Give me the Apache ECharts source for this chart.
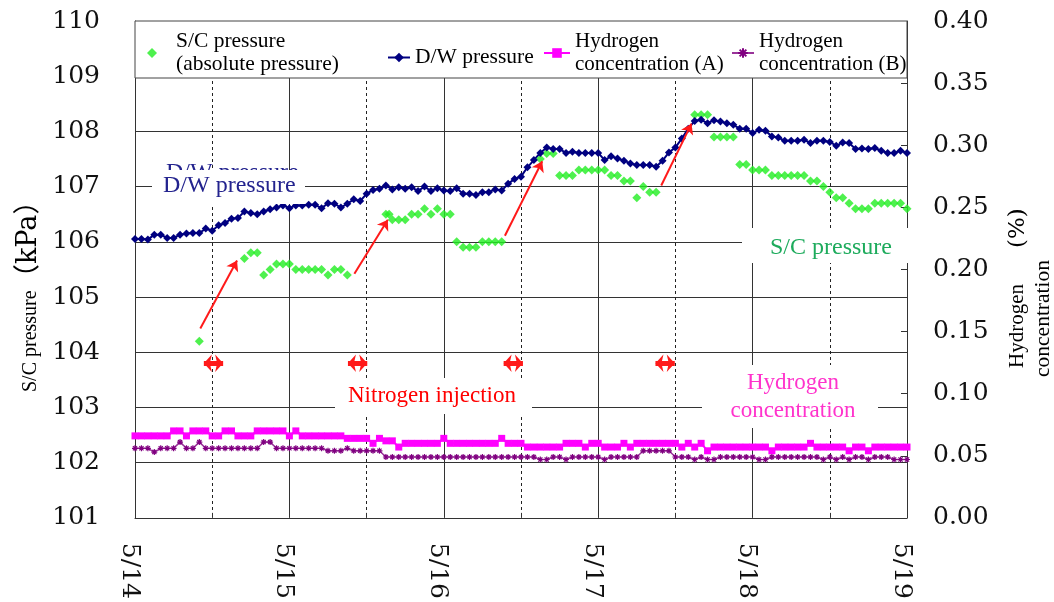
<!DOCTYPE html>
<html><head><meta charset="utf-8">
<script src="https://cdn.jsdelivr.net/npm/echarts@6/dist/echarts.min.js"></script>
<style>html,body{margin:0;padding:0;background:#fff}#c{width:1054px;height:602px}</style>
</head><body><div id="c"></div>
<script>
// ---- data (x = hours from 5/14 0:00) ----
const dayLabels = ['5/14', '5/15', '5/16', '5/17', '5/18', '5/19'];

// D/W pressure, hourly (kPa)
const dwValues = [
  106.05,106.05,106.04,106.13,106.13,106.07,106.07,106.13,106.15,106.16,106.16,
  106.24,106.20,106.30,106.34,106.42,106.43,106.55,106.52,106.50,106.55,
  106.59,106.62,106.66,106.61,106.66,106.66,106.67,106.67,106.61,106.70,
  106.69,106.62,106.69,106.77,106.74,106.87,106.94,106.96,107.02,106.95,
  106.99,106.96,106.99,106.92,107.00,106.92,106.97,106.93,106.92,106.97,
  106.87,106.87,106.85,106.90,106.90,106.95,106.93,107.05,107.14,107.18,
  107.35,107.48,107.61,107.71,107.68,107.68,107.61,107.63,107.61,107.61,
  107.61,107.61,107.48,107.55,107.51,107.47,107.42,107.39,107.39,107.39,
  107.36,107.47,107.62,107.71,107.87,108.05,108.19,108.21,108.15,108.20,
  108.18,108.15,108.12,108.05,108.05,107.97,108.03,108.01,107.91,107.89,
  107.83,107.83,107.83,107.85,107.79,107.83,107.83,107.81,107.74,107.80,
  107.79,107.68,107.69,107.68,107.70,107.65,107.61,107.61,107.65,107.61
];

// S/C pressure (absolute), sparse readings
const scHours = [
  10,17,18,19,20,21,22,23,24,25,26,27,28,29,30,31,32,33,
  39,39.5,40,41,42,43,44,45,46,47,48,49,
  50,51,52,53,54,55,56,57,
  63,64,65,66,67,68,69,70,71,72,73,74,75,76,77,78,79,80,81,
  87,88,89,90,91,92,93,94,95,96,97,98,99,100,101,102,103,104,
  105,106,107,108,109,110,111,112,113,114,115,116,117,118,119,120
];
const scValues = [
  104.2,105.7,105.8,105.8,105.4,105.5,105.6,105.6,105.6,105.5,105.5,105.5,105.5,105.5,105.4,105.5,105.5,105.4,
  106.5,106.5,106.4,106.4,106.4,106.5,106.5,106.6,106.5,106.6,106.5,106.5,
  106.0,105.9,105.9,105.9,106.0,106.0,106.0,106.0,
  107.5,107.6,107.6,107.2,107.2,107.2,107.3,107.3,107.3,107.3,107.3,107.2,107.2,107.1,107.1,106.8,107.0,106.9,106.9,
  108.3,108.3,108.3,107.9,107.9,107.9,107.9,107.4,107.4,107.3,107.3,107.3,107.2,107.2,107.2,107.2,107.2,107.2,
  107.1,107.1,107.0,106.9,106.8,106.8,106.7,106.6,106.6,106.6,106.7,106.7,106.7,106.7,106.7,106.6
];

// Hydrogen concentration (A), hourly (%)
const h2A = [
  .066,.066,.066,.066,.066,.066,.070,.070,.066,.070,
  .070,.070,.066,.066,.070,.070,.066,.066,.066,.070,
  .070,.070,.070,.070,.066,.070,.066,.066,.066,.066,
  .066,.066,.066,.064,.064,.064,.064,.060,.064,.062,
  .062,.057,.060,.060,.060,.060,.060,.060,.064,.060,
  .060,.060,.060,.060,.060,.060,.060,.064,.060,.060,
  .060,.057,.057,.057,.057,.057,.057,.060,.060,.060,
  .057,.060,.060,.057,.057,.057,.060,.057,.060,.060,
  .060,.060,.060,.060,.060,.057,.060,.057,.060,.054,
  .057,.057,.057,.057,.057,.057,.057,.057,.057,.054,
  .057,.057,.057,.057,.057,.060,.057,.057,.057,.057,
  .057,.054,.057,.057,.054,.057,.057,.057,.057,.057,
  .057
];
// Hydrogen concentration (B), hourly (%)
const h2B = [
  .056,.056,.056,.053,.056,.056,.056,.061,.056,.056,
  .061,.056,.056,.056,.056,.056,.056,.056,.056,.056,
  .061,.061,.056,.056,.056,.056,.056,.056,.056,.056,
  .054,.054,.054,.056,.054,.054,.054,.054,.054,.049,
  .049,.049,.049,.049,.049,.049,.049,.049,.049,.049,
  .049,.049,.049,.049,.049,.049,.049,.049,.049,.049,
  .049,.049,.049,.047,.047,.049,.049,.047,.049,.049,
  .049,.049,.049,.047,.049,.049,.049,.049,.049,.054,
  .054,.054,.054,.054,.049,.049,.049,.047,.049,.047,
  .047,.049,.049,.049,.049,.049,.049,.047,.047,.049,
  .049,.049,.049,.049,.049,.049,.049,.047,.049,.047,
  .049,.047,.049,.049,.047,.049,.049,.049,.047,.047,
  .047
];

// annotation arrows (hours, kPa)
const injArrows = [
  [[10.15,104.43],[15.86,105.66]],
  [[34.1,105.42],[39.3,106.40]],
  [[57.5,106.11],[63.3,107.46]],
  [[81.8,107.02],[86.5,108.14]]
];
const injMarks = [[10.7,13.7],[33.1,36.1],[57.3,60.3],[80.9,83.9]];
const injLevel = 103.8;

// ---- chart ----
const serif = 'Liberation Serif';
const numFont = 'DejaVu Serif';
const chart = echarts.init(document.getElementById('c'));
const asterisk = 'path://M5,0L5,10M0,5L10,5M1.5,1.5L8.5,8.5M8.5,1.5L1.5,8.5';

function mkLegend(name, left, top, w, h, padLeft, fs) {
  return {data: [name], left: left, top: top, itemWidth: w, itemHeight: h, itemGap: 0,
    padding: 0, selectedMode: false,
    textStyle: {fontFamily: serif, fontSize: fs, lineHeight: 23, color: '#000', padding: [0, 0, 0, padLeft]}};
}

const option = {
  animation: false,
  grid: {left: 135, right: 147, top: 21, bottom: 82},
  legend: [
    mkLegend('S/C pressure\n(absolute pressure)', 147, 30, 10, 10, 14, 21.5),
    mkLegend('D/W pressure', 387, 46, 22, 12, 0, 21.5),
    mkLegend('Hydrogen\nconcentration (A)', 543, 30, 26, 12, 0, 21),
    mkLegend('Hydrogen\nconcentration (B)', 731, 30, 22, 12, 0, 21)
  ],
  xAxis: {
    type: 'value', min: 0, max: 120, interval: 24,
    axisLine: {lineStyle: {color: '#333', width: 1}},
    axisTick: {show: false, inside: true},
    minorTick: {show: true, splitNumber: 2, length: 5, lineStyle: {color: '#333'}},
    splitLine: {show: true, lineStyle: {color: '#333', width: 1}},
    minorSplitLine: {show: true, lineStyle: {color: '#222', width: 1, type: [3, 3]}},
    axisLabel: {rotate: -90, margin: 25, fontFamily: numFont, fontSize: 25, color: '#111',
      verticalAlign: 'top', lineHeight: 12,
      formatter: v => (v % 24 === 0 ? dayLabels[v / 24] : '')}
  },
  yAxis: [{
    type: 'value', min: 101, max: 110, interval: 1,
    axisLine: {show: true, lineStyle: {color: '#333'}},
    axisTick: {show: true, inside: true, length: 5, lineStyle: {color: '#333'}},
    splitLine: {show: true, lineStyle: {color: '#333', width: 1}},
    axisLabel: {margin: 35, fontFamily: numFont, fontSize: 25, color: '#111'}
  }, {
    type: 'value', min: 0, max: 0.4, interval: 0.05, position: 'right',
    axisLine: {show: true, lineStyle: {color: '#333'}},
    axisTick: {show: true, inside: true, length: 6, lineStyle: {color: '#333'}},
    splitLine: {show: false},
    axisLabel: {margin: 26, fontFamily: numFont, fontSize: 25, color: '#111',
      formatter: v => v.toFixed(2)}
  }],
  series: [
    {
      name: 'S/C pressure\n(absolute pressure)', type: 'scatter', yAxisIndex: 0, z: 3,
      symbol: 'diamond', symbolSize: 9, itemStyle: {color: '#22ee22'},
      data: scHours.map((h, i) => [h, scValues[i]]),
      markLine: {
        silent: true, symbol: ['arrow', 'arrow'], symbolSize: [13, 8], label: {show: false},
        lineStyle: {color: '#ff1a1a', width: 5, type: 'solid'},
        data: injMarks.map(m => [{coord: [m[0], injLevel]}, {coord: [m[1], injLevel]}])
      }
    },
    {
      name: 'D/W pressure', type: 'line', yAxisIndex: 0, z: 3,
      symbol: 'diamond', symbolSize: 8, lineStyle: {color: '#000080', width: 2},
      itemStyle: {color: '#000080'},
      data: dwValues.map((v, i) => [i, v]),
      markLine: {
        silent: true, symbol: ['none', 'arrow'], symbolSize: 10, label: {show: false},
        lineStyle: {color: '#ff1a1a', width: 2, type: 'solid'},
        data: injArrows.map(a => [{coord: a[0]}, {coord: a[1]}])
      }
    },
    {
      name: 'Hydrogen\nconcentration (A)', type: 'line', yAxisIndex: 1, z: 2,
      symbol: 'rect', symbolSize: 7, lineStyle: {color: '#ff00ff', width: 2},
      itemStyle: {color: '#ff00ff'},
      data: h2A.map((v, i) => [i, v])
    },
    {
      name: 'Hydrogen\nconcentration (B)', type: 'line', yAxisIndex: 1, z: 2,
      symbol: asterisk, symbolSize: 6, lineStyle: {color: '#993399', width: 1.5},
      itemStyle: {color: '#993399', borderColor: '#800080', borderWidth: 1.2},
      data: h2B.map((v, i) => [i, v])
    }
  ],
  graphic: [
    {type: 'rect', z: 3, shape: {x: 135, y: 21, width: 772, height: 57},
      style: {fill: '#fff', stroke: '#444', lineWidth: 1}},
    // axis names
    {type: 'text', z: 5, x: 31, y: 392, rotation: Math.PI / 2,
      style: {text: 'S/C pressure', fontFamily: serif, fontSize: 20, fill: '#000', textAlign: 'left', textVerticalAlign: 'middle'}},
    {type: 'text', z: 5, x: 29, y: 291, rotation: Math.PI / 2,
      style: {text: '（kPa）', fontFamily: numFont + ', Noto Sans CJK JP', fontSize: 27, fill: '#000', textAlign: 'left', textVerticalAlign: 'middle'}},
    {type: 'text', z: 5, x: 1017, y: 368, rotation: Math.PI / 2,
      style: {text: 'Hydrogen', fontFamily: serif, fontSize: 21, fill: '#000', textAlign: 'left', textVerticalAlign: 'middle'}},
    {type: 'text', z: 5, x: 1018, y: 248, rotation: Math.PI / 2,
      style: {text: '(%)', fontFamily: numFont, fontSize: 23, fill: '#000', textAlign: 'left', textVerticalAlign: 'middle'}},
    {type: 'text', z: 5, x: 1043, y: 377, rotation: Math.PI / 2,
      style: {text: 'concentration', fontFamily: serif, fontSize: 21.5, fill: '#000', textAlign: 'left', textVerticalAlign: 'middle'}},
    // annotations
    {type: 'text', z: 3, x: 166, y: 161,
      style: {text: 'D/W pressure', fontFamily: serif, fontSize: 24, fill: '#23238e', textAlign: 'left', textVerticalAlign: 'top'}},
    {type: 'rect', z: 4, shape: {x: 152, y: 170, width: 153, height: 34}, style: {fill: '#fff'}},
    {type: 'text', z: 5, x: 163, y: 186,
      style: {text: 'D/W pressure', fontFamily: serif, fontSize: 24, fill: '#23238e', textAlign: 'left', textVerticalAlign: 'middle'}},
    {type: 'rect', z: 4, shape: {x: 742, y: 228, width: 166, height: 35}, style: {fill: '#fff'}},
    {type: 'text', z: 5, x: 770, y: 248,
      style: {text: 'S/C pressure', fontFamily: serif, fontSize: 24, fill: '#1dab5c', textAlign: 'left', textVerticalAlign: 'middle'}},
    {type: 'rect', z: 4, shape: {x: 335, y: 378, width: 197, height: 36}, style: {fill: '#fff'}},
    {type: 'text', z: 5, x: 432, y: 396,
      style: {text: 'Nitrogen injection', fontFamily: serif, fontSize: 23, fill: '#ff0000', textAlign: 'center', textVerticalAlign: 'middle'}},
    {type: 'rect', z: 4, shape: {x: 702, y: 365, width: 176, height: 63}, style: {fill: '#fff'}},
    {type: 'text', z: 5, x: 793, y: 383,
      style: {text: 'Hydrogen', fontFamily: serif, fontSize: 23, fill: '#ff33cc', textAlign: 'center', textVerticalAlign: 'middle'}},
    {type: 'text', z: 5, x: 793, y: 411,
      style: {text: 'concentration', fontFamily: serif, fontSize: 23, fill: '#ff33cc', textAlign: 'center', textVerticalAlign: 'middle'}}
  ]
};
chart.setOption(option);
</script>
</body></html>
